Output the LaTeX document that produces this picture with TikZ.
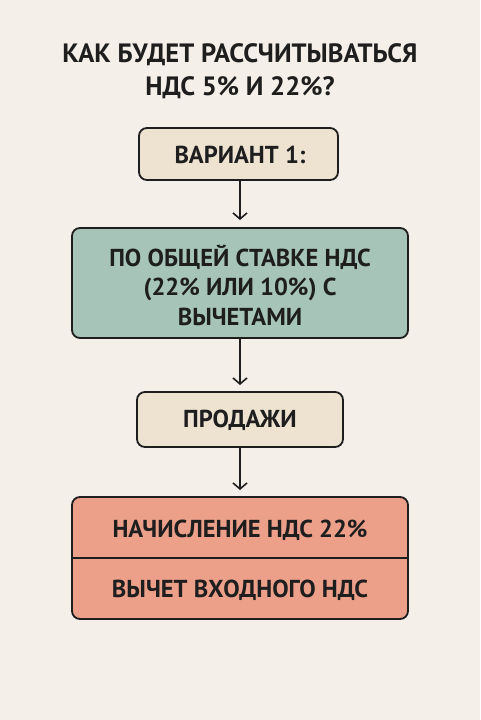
\documentclass[tikz,border=0pt]{standalone}
\usepackage{fontspec}
\setmainfont{PT Sans}
\definecolor{bg}{HTML}{F4EFE8}
\definecolor{beige}{HTML}{EEE3D1}
\definecolor{sage}{HTML}{A6C4B7}
\definecolor{salmon}{HTML}{EC9F89}
\definecolor{ink}{HTML}{1E1E1E}
\usetikzlibrary{arrows.meta}
\tikzset{
  box/.style={draw=ink, line width=1.8pt, rounded corners=8pt},
  lbl/.style={font=\bfseries\fontsize{24.5}{29.5}\selectfont, text=ink, align=center},
  ttl/.style={font=\bfseries\fontsize{26.5}{33}\selectfont, text=ink, align=center},
  conn/.style={draw=ink, line width=1.6pt, -{Straight Barb[length=6pt,width=14pt]}},
}
\begin{document}
\begin{tikzpicture}[x=1pt,y=-1pt]
\fill[bg] (0,0) rectangle (480,720);
\useasboundingbox (0,0) rectangle (480,720);
\node[ttl] (title) at (240,71) {КАК БУДЕТ РАССЧИТЫВАТЬСЯ\\НДС 5\% И 22\%?};
\draw[box, fill=beige] (139,128) rectangle (338,180);
\node[lbl] (v1) at (240,155) {ВАРИАНТ 1:};
\coordinate (v1b) at (240,180);
\coordinate (g1t) at (240,220);
\draw[box, fill=sage] (72,228) rectangle (408,338);
\node[lbl] (g1) at (240,285) {ПО ОБЩЕЙ СТАВКЕ НДС\\(22\% ИЛИ 10\%) С\\ВЫЧЕТАМИ};
\coordinate (g1b) at (240,338);
\coordinate (p1t) at (240,385);
\draw[box, fill=beige] (137,392) rectangle (343,447);
\node[lbl] (p1) at (240,420) {ПРОДАЖИ};
\coordinate (p1b) at (240,447);
\coordinate (s1t) at (240,490);
\draw[box, fill=salmon] (72,497) rectangle (408,619);
\draw[draw=ink, line width=1.6pt] (72,558) -- (408,558);
\node[lbl] (s1) at (240,530) {НАЧИСЛЕНИЕ НДС 22\%};
\node[lbl] (s2) at (240,590) {ВЫЧЕТ ВХОДНОГО НДС};
\draw[conn] (v1b) -- (g1t);
\draw[conn] (g1b) -- (p1t);
\draw[conn] (p1b) -- (s1t);
\end{tikzpicture}
\end{document}
